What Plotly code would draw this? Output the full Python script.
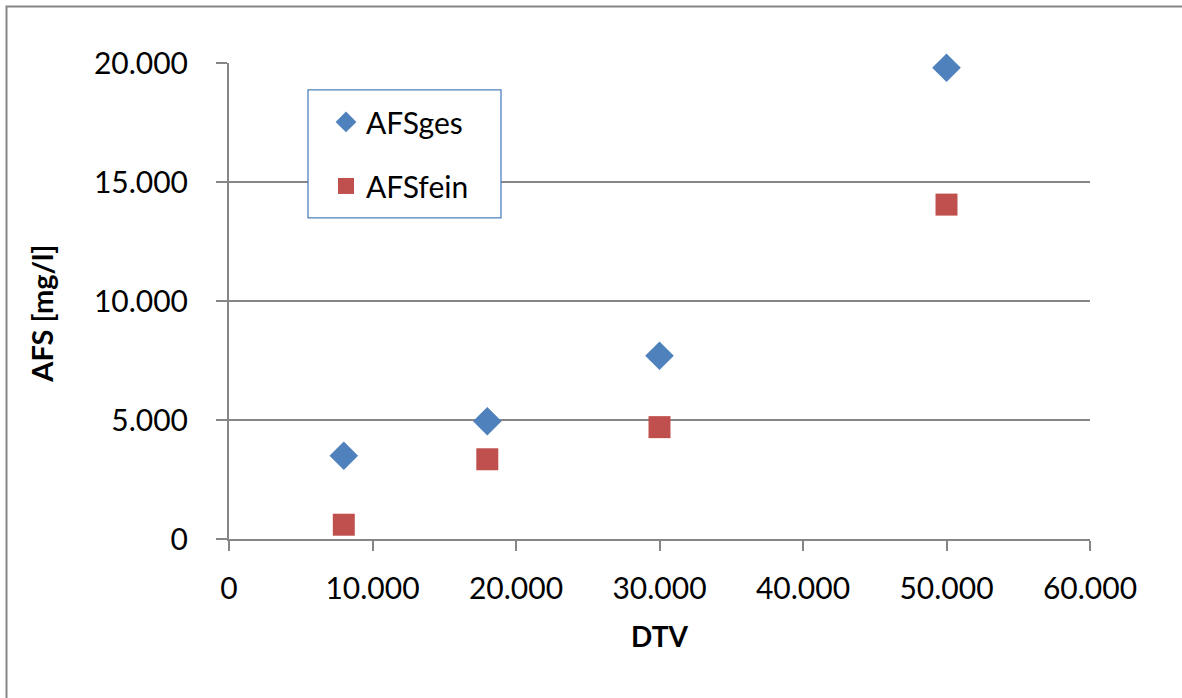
import plotly.graph_objects as go

dtv = [8000, 18000, 30000, 50000]
afs_ges = [3500, 4950, 7700, 19800]
afs_fein = [600, 3350, 4700, 14050]

x_ticks = [0, 10000, 20000, 30000, 40000, 50000, 60000]
y_ticks = [0, 5000, 10000, 15000, 20000]

FONT = "Lato, 'Open Sans', sans-serif"
GRID = "#868686"

fig = go.Figure()
fig.add_trace(go.Scatter(
    x=dtv, y=afs_ges, mode="markers", name="AFSges", legendgroup="a",
    marker=dict(symbol="diamond", size=22, color="#4F81BD"), cliponaxis=False,
))
fig.add_trace(go.Scatter(
    x=dtv, y=afs_fein, mode="markers", name="AFSfein", legendgroup="b",
    marker=dict(symbol="square", size=22, color="#C0504D"), cliponaxis=False,
))

L, R, T, B = 229, 1090, 63, 539.5
W, H = 1182, 698

def px_x(p):
    return (p - L) / (R - L)

def px_y(p):
    return (B - p) / (B - T)

fig.update_layout(
    width=W, height=H,
    margin=dict(l=L, r=W - R, t=T, b=H - B, autoexpand=False),
    paper_bgcolor="white", plot_bgcolor="white",
    separators=",.",
    font=dict(family=FONT, size=30, color="black"),
    showlegend=True,
    legend=dict(
        x=px_x(308), y=px_y(96), xanchor="left", yanchor="top",
        borderwidth=0, bgcolor="rgba(0,0,0,0)",
        font=dict(family=FONT, size=30, color="black"),
        traceorder="grouped", tracegroupgap=22, indentation=18,
    ),
    xaxis=dict(
        range=[0, 60000], tickvals=x_ticks, tickformat=",d",
        showgrid=False, zeroline=False,
        showline=True, linecolor=GRID, linewidth=2,
        ticks="outside", ticklen=10, tickwidth=2, tickcolor=GRID,
        ticklabelstandoff=12,
        title=dict(text="<b>DTV</b>", font=dict(family=FONT, size=28), standoff=23),
    ),
    yaxis=dict(
        range=[0, 20000], tickvals=y_ticks, tickformat=",d",
        showgrid=True, gridcolor=GRID, gridwidth=2, zeroline=False,
        showline=True, linecolor=GRID, linewidth=2,
        ticks="outside", ticklen=11, tickwidth=2, tickcolor=GRID,
        ticklabelstandoff=22,
    ),
    annotations=[dict(
        text="<b>AFS [mg/l]</b>", textangle=-90, showarrow=False,
        xref="paper", yref="paper", x=px_x(42), y=px_y(314),
        xanchor="center", yanchor="middle",
        font=dict(family=FONT, size=29, color="black"),
    )],
    shapes=[
        dict(
            type="rect", xref="paper", yref="paper",
            x0=px_x(6.5), x1=px_x(1190), y0=px_y(720), y1=px_y(6.5),
            line=dict(color=GRID, width=2), fillcolor="rgba(0,0,0,0)", layer="below",
        ),
        dict(
            type="rect", xref="paper", yref="paper",
            x0=px_x(308), x1=px_x(501), y0=px_y(218), y1=px_y(90),
            line=dict(color="#4F81BD", width=1.3), fillcolor="white", layer="above",
        ),
    ],
)

fig.write_html("out.html")
